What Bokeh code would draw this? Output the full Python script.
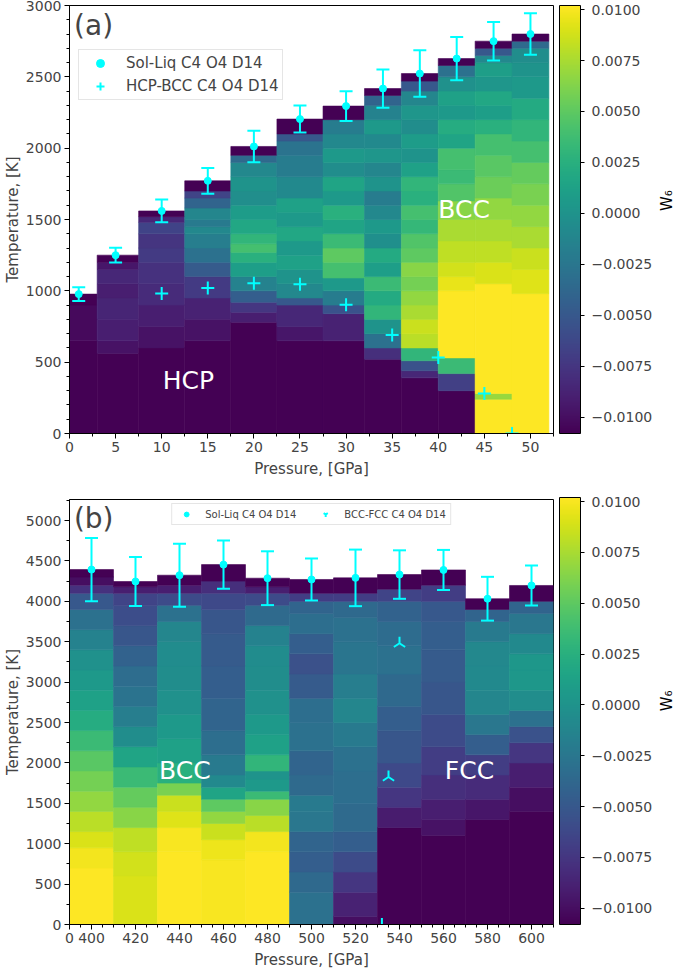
import numpy as np
from bokeh.plotting import figure
from bokeh.models import (LinearColorMapper, ColorBar, Range1d, SingleIntervalTicker,
                          FixedTicker, CustomJSTickFormatter, Label, ColumnDataSource)
from bokeh.palettes import Viridis256
from bokeh.transform import transform
from bokeh.layouts import column, row
from bokeh.embed import file_html
from bokeh.resources import INLINE

FONT = "DejaVu Sans"
CYAN = "#00ffff"

# ---------------- panel (a): 0-50 GPa ----------------
a_pressure = [1, 5, 10, 15, 20, 25, 30, 34, 38, 42, 46, 50]
a_melt_T = [977, 1250, 1560, 1771, 2012, 2204, 2295, 2418, 2523, 2628, 2750, 2800]
a_melt_err = [48, 52, 80, 90, 110, 95, 104, 134, 163, 152, 135, 145]
a_hcp_bcc_P = [10, 15, 20, 25, 30, 35, 40, 45, 48]
a_hcp_bcc_T = [981, 1019, 1054, 1047, 902, 690, 533, 280, 0]

# W6 profile of every pressure column: band start temperatures and band values
a_band_T = [
    [0, 650, 900],
    [0, 560, 650, 800, 950, 1050, 1150, 1200],
    [0, 600, 750, 900, 1050, 1200, 1300, 1400, 1480, 1520],
    [0, 650, 800, 950, 1100, 1200, 1300, 1400, 1450, 1500, 1580, 1650, 1700],
    [0, 780, 850, 920, 1000, 1100, 1200, 1270, 1330, 1400, 1500, 1600, 1700, 1800, 1900, 1950],
    [0, 650, 750, 900, 950, 1050, 1150, 1250, 1350, 1450, 1550, 1650, 1800, 1950, 2050, 2100],
    [0, 650, 840, 900, 1000, 1090, 1200, 1300, 1400, 1500, 1600, 1700, 1800, 1900, 2000, 2100, 2200],
    [0, 520, 600, 700, 800, 900, 1000, 1100, 1200, 1300, 1400, 1500, 1600, 1700, 1800, 1900, 2000,
     2100, 2200, 2300, 2370],
    [0, 390, 440, 510, 600, 700, 800, 900, 1000, 1100, 1200, 1300, 1400, 1500, 1600, 1700, 1800,
     1900, 2000, 2100, 2200, 2300, 2400, 2470],
    [0, 300, 420, 530, 1000, 1100, 1200, 1350, 1500, 1630, 1750, 1850, 2000, 2100, 2200, 2300,
     2400, 2500, 2580],
    [0, 240, 280, 1050, 1200, 1350, 1500, 1650, 1800, 1950, 2100, 2200, 2300, 2400, 2500, 2600,
     2650, 2700],
    [0, 980, 1150, 1300, 1450, 1600, 1750, 1900, 2050, 2200, 2350, 2500, 2600, 2700, 2750],
]
a_band_W6 = [
    [-0.0108, -0.0103, -0.0108],
    [-0.0108, -0.0098, -0.0090, -0.0086, -0.0090, -0.0085, -0.0095, -0.0108],
    [-0.0108, -0.0098, -0.0090, -0.0082, -0.0078, -0.0072, -0.0076, -0.0066, -0.0085, -0.0108],
    [-0.0108, -0.0098, -0.0088, -0.0072, -0.0048, -0.0030, -0.0018, -0.0010, -0.0022, -0.0012,
     -0.0040, -0.0065, -0.0108],
    [-0.0108, -0.0090, -0.0075, -0.0045, -0.0015, 0.0010, 0.0025, 0.0040, 0.0030, 0.0018, 0.0008,
     -0.0004, 0.0000, -0.0010, -0.0035, -0.0108],
    [-0.0108, -0.0095, -0.0085, -0.0050, -0.0010, 0.0000, 0.0012, 0.0005, 0.0018, 0.0006, 0.0012,
     -0.0008, -0.0020, -0.0028, -0.0050, -0.0108],
    [-0.0108, -0.0088, -0.0055, -0.0020, 0.0005, 0.0040, 0.0050, 0.0035, 0.0015, 0.0025, 0.0005,
     0.0015, -0.0005, 0.0005, -0.0010, -0.0020, -0.0108],
    [-0.0108, -0.0080, -0.0030, 0.0000, 0.0030, 0.0020, 0.0035, 0.0010, 0.0020, -0.0003, 0.0005,
     -0.0010, -0.0020, 0.0000, -0.0012, 0.0002, -0.0008, 0.0005, -0.0015, -0.0040, -0.0108],
    [-0.0108, -0.0085, -0.0055, 0.0030, 0.0080, 0.0085, 0.0075, 0.0068, 0.0058, 0.0065, 0.0050,
     0.0045, 0.0032, 0.0040, 0.0025, 0.0030, 0.0012, 0.0000, 0.0008, -0.0005, 0.0002, -0.0012,
     -0.0050, -0.0108],
    [-0.0108, -0.0068, 0.0035, 0.0102, 0.0095, 0.0088, 0.0082, 0.0075, 0.0065, 0.0045, 0.0035,
     0.0040, 0.0015, 0.0022, 0.0005, 0.0012, -0.0002, -0.0030, -0.0108],
    [0.0102, 0.0070, 0.0102, 0.0090, 0.0082, 0.0075, 0.0068, 0.0055, 0.0048, 0.0040, 0.0025,
     0.0010, 0.0018, 0.0002, 0.0010, -0.0010, -0.0050, -0.0108],
    [0.0102, 0.0092, 0.0085, 0.0075, 0.0068, 0.0060, 0.0052, 0.0040, 0.0030, 0.0020, 0.0005,
     0.0000, -0.0005, -0.0035, -0.0108],
]

# ---------------- panel (b): 400-600 GPa ----------------
b_pressure = [400, 420, 440, 460, 480, 500, 520, 540, 560, 580, 600]
b_melt_T = [4393, 4245, 4323, 4454, 4286, 4270, 4290, 4331, 4388, 4032, 4196]
b_melt_err = [392, 302, 390, 300, 333, 260, 350, 300, 248, 271, 248]
b_bcc_fcc_P = [540, 535, 532]
b_bcc_fcc_T = [3481, 1826, 0]

b_band_T = [
    [0, 700, 950, 1150, 1400, 1650, 1900, 2150, 2400, 2650, 2900, 3150, 3400, 3650, 3900, 4100, 4200, 4300],
    [0, 600, 900, 1200, 1450, 1700, 1950, 2200, 2450, 2700, 2950, 3200, 3450, 3700, 3950, 4100, 4180],
    [0, 900, 1200, 1400, 1600, 1750, 2000, 2300, 2600, 2900, 3200, 3500, 3750, 3950, 4100, 4200],
    [0, 800, 1050, 1250, 1400, 1550, 1700, 1850, 2100, 2400, 2800, 3200, 3600, 3900, 4100, 4250],
    [0, 900, 1150, 1350, 1550, 1650, 1800, 1900, 2100, 2350, 2600, 2900, 3200, 3450, 3700, 3950, 4100, 4180],
    [0, 400, 650, 900, 1150, 1400, 1600, 1850, 2150, 2500, 2800, 3100, 3350, 3600, 3850, 4000, 4100],
    [0, 100, 400, 650, 900, 1150, 1500, 1900, 2200, 2500, 2800, 3100, 3500, 3800, 4000, 4100],
    [0, 1200, 1450, 1700, 2000, 2400, 2700, 3100, 3450, 3750, 4000, 4150],
    [0, 1100, 1300, 1550, 1850, 2200, 2600, 3000, 3400, 3750, 4000, 4200],
    [0, 1300, 1550, 1850, 2100, 2350, 2600, 2900, 3200, 3500, 3750, 3900],
    [0, 1400, 1700, 2000, 2250, 2450, 2650, 2900, 3150, 3350, 3600, 3850, 4000],
]
b_band_W6 = [
    [0.0102, 0.0098, 0.0090, 0.0080, 0.0068, 0.0058, 0.0048, 0.0035, 0.0022, 0.0012, 0.0005,
     -0.0002, -0.0015, -0.0030, -0.0050, -0.0078, -0.0100, -0.0108],
    [0.0090, 0.0088, 0.0082, 0.0065, 0.0052, 0.0035, 0.0015, -0.0005, -0.0018, -0.0028, -0.0033,
     -0.0042, -0.0052, -0.0058, -0.0065, -0.0090, -0.0108],
    [0.0102, 0.0100, 0.0092, 0.0085, 0.0060, 0.0025, 0.0012, 0.0005, -0.0002, -0.0005, -0.0006,
     -0.0012, -0.0030, -0.0060, -0.0090, -0.0108],
    [0.0100, 0.0097, 0.0085, 0.0068, 0.0050, 0.0015, -0.0008, -0.0022, -0.0032, -0.0040, -0.0045,
     -0.0048, -0.0052, -0.0062, -0.0080, -0.0108],
    [0.0102, 0.0098, 0.0080, 0.0065, 0.0035, 0.0005, 0.0000, 0.0030, 0.0012, 0.0005, -0.0002,
     -0.0005, -0.0006, -0.0015, -0.0035, -0.0060, -0.0090, -0.0108],
    [-0.0030, -0.0036, -0.0045, -0.0040, -0.0025, -0.0022, -0.0035, -0.0040, -0.0030, -0.0032,
     -0.0048, -0.0056, -0.0045, -0.0032, -0.0040, -0.0070, -0.0108],
    [-0.0100, -0.0088, -0.0075, -0.0060, -0.0045, -0.0035, -0.0032, -0.0030, -0.0022, -0.0012,
     -0.0018, -0.0026, -0.0030, -0.0036, -0.0070, -0.0108],
    [-0.0108, -0.0092, -0.0075, -0.0062, -0.0052, -0.0045, -0.0036, -0.0030, -0.0034, -0.0042,
     -0.0065, -0.0108],
    [-0.0108, -0.0098, -0.0090, -0.0080, -0.0070, -0.0060, -0.0052, -0.0048, -0.0045, -0.0050,
     -0.0070, -0.0108],
    [-0.0108, -0.0095, -0.0082, -0.0070, -0.0045, -0.0025, -0.0012, -0.0008, -0.0010, -0.0022,
     -0.0040, -0.0108],
    [-0.0108, -0.0100, -0.0090, -0.0075, -0.0055, -0.0030, -0.0005, 0.0003, 0.0003, -0.0008,
     -0.0025, -0.0040, -0.0108],
]
# pressure-axis ticks of panel (b); the left frame edge carries a lone "0"
b_xticks = [390, 400, 420, 440, 460, 480, 500, 520, 540, 560, 580, 600]
b_xtick_labels = {390: "0"}

W6_LOW, W6_HIGH = -0.0108, 0.0102
cbar_ticks = [-0.01, -0.0075, -0.005, -0.0025, 0.0, 0.0025, 0.005, 0.0075, 0.01]


def column_quads(pressures, tops, band_T, band_W):
    """Split every pressure column into W6 bands, capped at the melting temperature."""
    P = np.asarray(pressures, dtype=float)
    mids = (P[1:] + P[:-1]) / 2
    lefts = np.concatenate([[P[0] - (mids[0] - P[0])], mids])
    rights = np.concatenate([mids, [P[-1] + (P[-1] - mids[-1])]])
    out = dict(left=[], right=[], bottom=[], top=[], w6=[])
    for i, tm in enumerate(tops):
        starts, vals = band_T[i], band_W[i]
        for j, (t0, w) in enumerate(zip(starts, vals)):
            t1 = starts[j + 1] if j + 1 < len(starts) else tm
            t1 = min(t1, tm)
            if t1 <= t0:
                continue
            out["left"].append(lefts[i])
            out["right"].append(rights[i])
            out["bottom"].append(t0)
            out["top"].append(t1)
            out["w6"].append(w)
    return ColumnDataSource(out)


def style_axes(p, xticker, y_interval, y_minor):
    p.xaxis.ticker = xticker
    p.yaxis.ticker = SingleIntervalTicker(interval=y_interval, num_minor_ticks=y_minor)
    for ax in (p.xaxis[0], p.yaxis[0]):
        ax.axis_label_text_font = FONT
        ax.axis_label_text_font_size = "15px"
        ax.axis_label_text_font_style = "normal"
        ax.major_label_text_font = FONT
        ax.major_label_text_font_size = "14px"
        ax.major_tick_in = 0
        ax.major_tick_out = 5
        ax.minor_tick_in = 0
        ax.minor_tick_out = 3
        ax.major_label_standoff = 3
    p.xaxis.axis_label_standoff = 5
    p.yaxis.axis_label_standoff = 1
    p.xaxis.axis_label = "Pressure, [GPa]"
    p.yaxis.axis_label = "Temperature, [K]"
    p.grid.visible = False
    p.outline_line_color = "black"
    p.outline_line_width = 1


def add_colorbar(p, mapper, frame_h):
    fmt = CustomJSTickFormatter(code="""
        const s = Math.abs(tick).toFixed(4);
        return (tick < -1e-12 ? '\u2212' : '') + s;
    """)
    cb = ColorBar(color_mapper=mapper, ticker=FixedTicker(ticks=cbar_ticks), formatter=fmt,
                  width=21, height=frame_h, padding=0, margin=0, location=(6, 0),
                  major_tick_in=0, major_tick_out=4, major_tick_line_color="black",
                  minor_tick_line_color=None, bar_line_color="black", bar_line_width=1,
                  label_standoff=7, major_label_text_font=FONT,
                  major_label_text_font_size="14px", background_fill_alpha=0)
    p.add_layout(cb, "right")


def add_points(p, P, T, err, cap):
    T = np.asarray(T, dtype=float)
    err = np.asarray(err, dtype=float)
    p.segment(x0=P, y0=T - err, x1=P, y1=T + err, line_color=CYAN, line_width=2)
    p.scatter(P, T + err, marker="dash", size=cap, line_color=CYAN, line_width=2)
    p.scatter(P, T - err, marker="dash", size=cap, line_color=CYAN, line_width=2)


def side_title(height, y_frac):
    """Narrow strip carrying the rotated colour-bar title."""
    s = figure(width=20, height=height, x_range=Range1d(0, 1), y_range=Range1d(0, 1),
               output_backend="svg", toolbar_location=None, x_axis_location=None,
               y_axis_location=None, min_border=0)
    s.grid.visible = False
    s.outline_line_color = None
    s.add_layout(Label(x=0.58, y=y_frac, text="W\u2086", angle=np.pi / 2, text_font=FONT,
                       text_font_size="15px", text_color="black",
                       text_align="center", text_baseline="middle"))
    return s


mapper = LinearColorMapper(palette=Viridis256, low=W6_LOW, high=W6_HIGH)

# ---------- figure (a) ----------
pa = figure(width=655, height=480, x_range=Range1d(0, 52.5), y_range=Range1d(0, 3000),
            output_backend="svg", toolbar_location=None,
            min_border_left=69, min_border_right=102, min_border_top=5, min_border_bottom=47)
src_a = column_quads(a_pressure, a_melt_T, a_band_T, a_band_W6)
pa.quad(left="left", right="right", bottom="bottom", top="top", source=src_a,
        fill_color=transform("w6", mapper), line_color=transform("w6", mapper), line_width=0.6)
add_points(pa, a_pressure, a_melt_T, a_melt_err, 13)
pa.scatter(a_pressure, a_melt_T, marker="circle", size=7, fill_color=CYAN, line_color=CYAN,
           legend_label="Sol-Liq C4 O4 D14")
pa.scatter(a_hcp_bcc_P, a_hcp_bcc_T, marker="cross", size=13, line_color=CYAN, line_width=2,
           legend_label="HCP-BCC C4 O4 D14")
style_axes(pa, SingleIntervalTicker(interval=5, num_minor_ticks=2), 500, 5)
add_colorbar(pa, mapper, 428)

lg = pa.legend[0]
lg.location = (9, 333)
lg.orientation = "vertical"
lg.label_text_font = FONT
lg.label_text_font_size = "15px"
lg.padding = 3
lg.spacing = 3
lg.glyph_width = 36
lg.glyph_height = 20
lg.label_height = 20
lg.label_standoff = 8
lg.border_line_color = "#cccccc"
lg.border_line_width = 1
lg.background_fill_alpha = 0.8

pa.add_layout(Label(x=0.5, y=2858, text="(a)", text_font=FONT, text_font_size="28px",
                    text_align="left", text_baseline="middle"))
pa.add_layout(Label(x=12.9, y=369, text="HCP", text_font=FONT, text_font_size="25px",
                    text_color="white", text_align="center", text_baseline="middle"))
pa.add_layout(Label(x=42.8, y=1568, text="BCC", text_font=FONT, text_font_size="25px",
                    text_color="white", text_align="center", text_baseline="middle"))

# ---------- figure (b) ----------
pb = figure(width=655, height=491, x_range=Range1d(390, 610), y_range=Range1d(0, 5260),
            output_backend="svg", toolbar_location=None,
            min_border_left=69, min_border_right=102, min_border_top=19, min_border_bottom=45)
src_b = column_quads(b_pressure, b_melt_T, b_band_T, b_band_W6)
pb.quad(left="left", right="right", bottom="bottom", top="top", source=src_b,
        fill_color=transform("w6", mapper), line_color=transform("w6", mapper), line_width=0.6)
add_points(pb, b_pressure, b_melt_T, b_melt_err, 13)
pb.scatter(b_pressure, b_melt_T, marker="circle", size=7, fill_color=CYAN, line_color=CYAN,
           legend_label="Sol-Liq C4 O4 D14")
pb.scatter(b_bcc_fcc_P, b_bcc_fcc_T, marker="y", angle=np.pi, size=13, line_color=CYAN,
           line_width=2, legend_label="BCC-FCC C4 O4 D14")
b_minor = [t for t in range(390, 611, 5) if t not in b_xticks]
style_axes(pb, FixedTicker(ticks=b_xticks, minor_ticks=b_minor), 500, 2)
pb.xaxis.major_label_overrides = b_xtick_labels
add_colorbar(pb, mapper, 427)

lgb = pb.legend[0]
lgb.location = "top_center"
lgb.orientation = "horizontal"
lgb.margin = 4
lgb.label_text_font = FONT
lgb.label_text_font_size = "10px"
lgb.padding = 4
lgb.spacing = 19
lgb.glyph_width = 20
lgb.glyph_height = 12
lgb.label_height = 12
lgb.label_standoff = 9
lgb.border_line_color = "#cccccc"
lgb.border_line_width = 1
lgb.background_fill_alpha = 0.8

pb.add_layout(Label(x=392, y=5031, text="(b)", text_font=FONT, text_font_size="28px",
                    text_align="left", text_baseline="middle"))
pb.add_layout(Label(x=442.4, y=1909, text="BCC", text_font=FONT, text_font_size="25px",
                    text_color="white", text_align="center", text_baseline="middle"))
pb.add_layout(Label(x=571.8, y=1909, text="FCC", text_font=FONT, text_font_size="25px",
                    text_color="white", text_align="center", text_baseline="middle"))

layout = column(row(pa, side_title(480, 0.544), spacing=0),
                row(pb, side_title(491, 0.526), spacing=0), spacing=0)
open("out.html", "w").write(file_html(layout, INLINE))
